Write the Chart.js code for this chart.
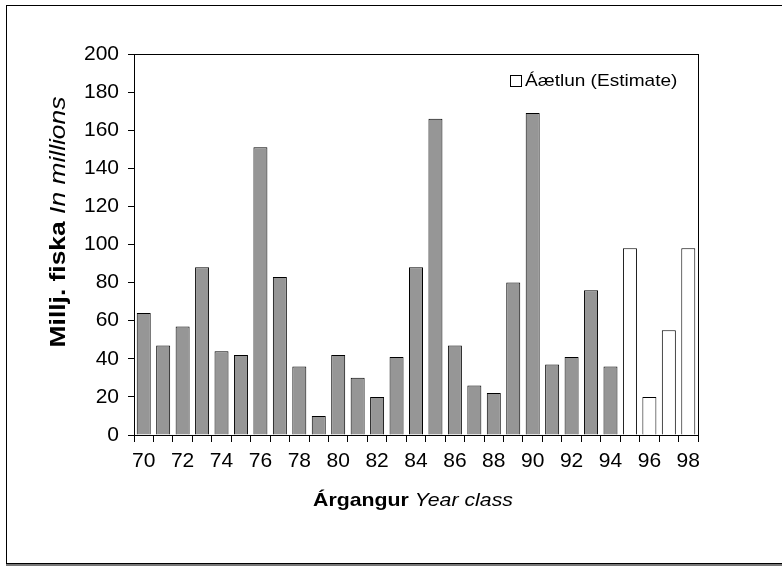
<!DOCTYPE html>
<html>
<head>
<meta charset="utf-8">
<script src="https://cdn.jsdelivr.net/npm/chart.js@4"></script>
<style>
  html, body { margin: 0; padding: 0; background: #fff; }
  #wrap { position: relative; width: 782px; height: 566px; overflow: hidden; }
  #frame { position: absolute; left: 6px; top: 5px; width: 800px; height: 557px;
           border: 1px solid #000; box-shadow: 0 2px 0 #777; pointer-events: none; }
  canvas { position: absolute; left: 0; top: 0; }
</style>
</head>
<body>
<div id="wrap">
  <div id="frame"></div>
  <canvas id="chart" width="782" height="566"></canvas>
</div>
<script>
const years = ['70','71','72','73','74','75','76','77','78','79','80','81','82','83','84',
               '85','86','87','88','89','90','91','92','93','94','95','96','97','98'];
// measured year classes (up to 94)
const measured = [64, 47, 57, 88, 44, 42, 151, 83, 36, 10, 42, 30, 20, 41, 88,
                  166, 47, 26, 22, 80, 169, 37, 41, 76, 36, null, null, null, null];
// estimates (95-98)
const estimate = [null, null, null, null, null, null, null, null, null, null, null, null, null, null, null,
                  null, null, null, null, null, null, null, null, null, null, 98, 20, 55, 98];
const yTicks = [0, 20, 40, 60, 80, 100, 120, 140, 160, 180, 200];

const FONT = '"Liberation Sans", Arial, sans-serif';
const SX = 1.12; // the original text is a little wider than it is tall

// titles with mixed bold/italic, the plot frame and the legend
const extras = {
  id: 'extras',
  afterDraw(chart) {
    const ctx = chart.ctx;
    const a = chart.chartArea;
    ctx.save();
    ctx.strokeStyle = '#000';
    ctx.lineWidth = 1;
    ctx.strokeRect(Math.round(a.left) + 0.5, Math.round(a.top) + 0.5,
                   Math.round(a.right - a.left), Math.round(a.bottom - a.top));

    // draws centred text made of parts, stretched by sx along the line
    function mixed(parts, cx, cy, sx) {
      let w = 0;
      parts.forEach(p => { ctx.font = p.font; p.w = ctx.measureText(p.text).width; w += p.w; });
      ctx.save();
      ctx.translate(cx, cy);
      ctx.scale(sx || SX, 1);
      let x = -w / 2;
      ctx.textBaseline = 'middle';
      ctx.textAlign = 'left';
      ctx.fillStyle = '#000';
      parts.forEach(p => { ctx.font = p.font; ctx.fillText(p.text, x, 0); x += p.w; });
      ctx.restore();
    }

    // x title
    mixed([
      { text: 'Árgangur ', font: 'bold 19px ' + FONT },
      { text: 'Year class', font: 'italic 19px ' + FONT }
    ], 413, 501);

    // y title
    ctx.save();
    ctx.translate(59, 222);
    ctx.rotate(-Math.PI / 2);
    mixed([
      { text: 'Millj. fiska ', font: 'bold 22px ' + FONT },
      { text: 'In millions', font: 'italic 22px ' + FONT }
    ], 0, 0, 1.2);
    ctx.restore();

    // legend
    ctx.fillStyle = '#fff';
    ctx.fillRect(510.5, 75.5, 11, 11);
    ctx.strokeRect(510.5, 75.5, 11, 11);
    ctx.font = '17px ' + FONT;
    const lw = ctx.measureText('Áætlun (Estimate)').width;
    mixed([{ text: 'Áætlun (Estimate)', font: '17px ' + FONT }], 525 + lw * SX / 2, 81);
    ctx.restore();
  }
};

new Chart(document.getElementById('chart'), {
  type: 'bar',
  data: {
    labels: years,
    datasets: [
      { label: 'Mælt', data: measured, backgroundColor: '#969696', borderColor: '#000', borderWidth: 1 },
      { label: 'Áætlun (Estimate)', data: estimate, backgroundColor: '#fff', borderColor: '#000', borderWidth: 1 }
    ]
  },
  options: {
    responsive: false,
    animation: false,
    devicePixelRatio: 1,
    layout: { padding: { left: 0, right: 84, top: 54, bottom: 0 } },
    plugins: { legend: { display: false }, tooltip: { enabled: false } },
    datasets: { bar: { barPercentage: 0.72, categoryPercentage: 1 } },
    scales: {
      x: {
        stacked: true,
        grid: { offset: true, drawOnChartArea: false, tickLength: 7, color: '#000' },
        border: { color: '#000' },
        ticks: {
          autoSkip: false, maxRotation: 0, padding: 7, color: '#000',
          font: { family: FONT, size: 21 },
          callback: function (v, i) { return i % 2 === 0 ? years[i] : ''; }
        },
        afterFit(scale) { scale.height = 131; }
      },
      y: {
        stacked: true,
        min: 0, max: 200,
        afterBuildTicks(scale) { scale.ticks = yTicks.map(v => ({ value: v })); },
        grid: { drawOnChartArea: false, tickLength: 6, color: '#000' },
        border: { color: '#000' },
        ticks: { padding: 9, color: '#000', font: { family: FONT, size: 21 } },
        afterFit(scale) { scale.width = 134; }
      }
    }
  },
  plugins: [extras]
});
</script>
</body>
</html>
